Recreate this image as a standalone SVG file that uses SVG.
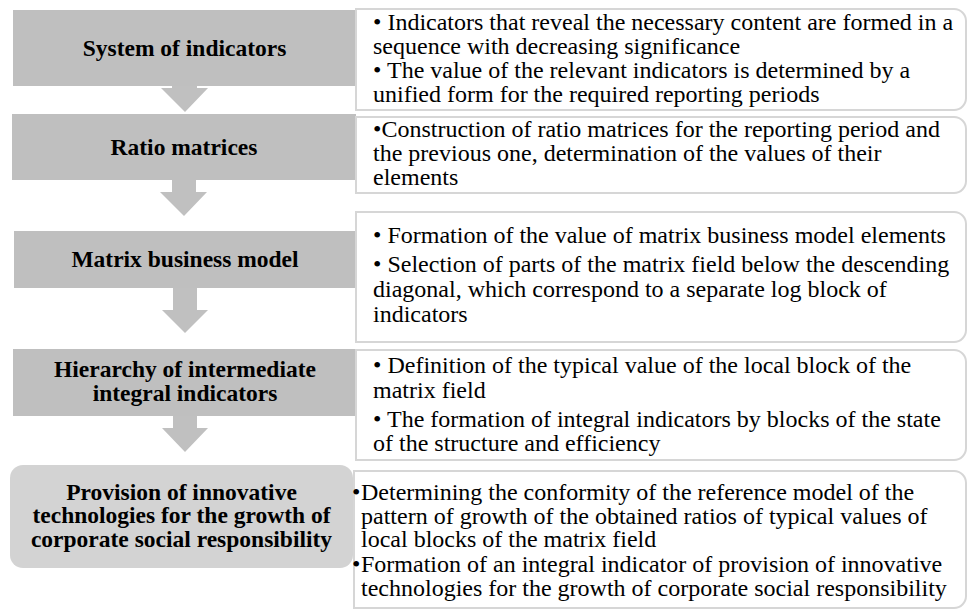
<svg xmlns="http://www.w3.org/2000/svg" width="971" height="610" viewBox="0 0 971 610">
<style>
.step{fill:#bfbfbf}
.last{fill:#d3d3d3}
.arrow{fill:#c0c0c0}
.panel{fill:#ffffff;stroke:#d6d6d6;stroke-width:2}
.title{font-family:"Liberation Serif","Times New Roman",serif;font-weight:bold;font-size:23.5px;fill:#000;text-anchor:middle}
.body{font-family:"Liberation Serif","Times New Roman",serif;font-size:24px;fill:#000}
</style>
<rect width="971" height="610" fill="#ffffff"/>
<g id="connectors">
<path class="arrow" d="M172,86 H197 V88 H208 L185,112 L161,88 H172 Z"/>
<path class="arrow" d="M172,180 H196 V192 H207 L184,216 L160,192 H172 Z"/>
<path class="arrow" d="M173,288 H197 V310 H208 L185,333 L162,310 H173 Z"/>
<path class="arrow" d="M173,416 H197 V428 H208 L185,452 L162,428 H173 Z"/>
</g>
<g id="node1">
<rect class="step" x="13" y="10" width="343" height="76"/>
<text class="title" x="184.5" y="56">System of indicators</text>
</g>
<g id="panel1">
<path class="panel" d="M356,9 H954 A12,12 0 0 1 966,21 V98 A12,12 0 0 1 954,110 H356 Z"/>
<text class="body" x="373" y="30">• Indicators that reveal the necessary content are formed in a</text>
<text class="body" x="373" y="54">sequence with decreasing significance</text>
<text class="body" x="373" y="78">• The value of the relevant indicators is determined by a</text>
<text class="body" x="373" y="102">unified form for the required reporting periods</text>
</g>
<g id="node2">
<rect class="step" x="12" y="114" width="344" height="66"/>
<text class="title" x="184" y="155">Ratio matrices</text>
</g>
<g id="panel2">
<path class="panel" d="M356,117 H954 A12,12 0 0 1 966,129 V181 A12,12 0 0 1 954,193 H356 Z"/>
<text class="body" x="373" y="137">•Construction of ratio matrices for the reporting period and</text>
<text class="body" x="373" y="161">the previous one, determination of the values of their</text>
<text class="body" x="373" y="185">elements</text>
</g>
<g id="node3">
<rect class="step" x="14" y="231" width="343" height="57"/>
<text class="title" x="185" y="267">Matrix business model</text>
</g>
<g id="panel3">
<path class="panel" d="M356,212 H954 A12,12 0 0 1 966,224 V330 A12,12 0 0 1 954,342 H356 Z"/>
<text class="body" x="373" y="243">• Formation of the value of matrix business model elements</text>
<text class="body" x="373" y="272">• Selection of parts of the matrix field below the descending</text>
<text class="body" x="373" y="297">diagonal, which correspond to a separate log block of</text>
<text class="body" x="373" y="322">indicators</text>
</g>
<g id="node4">
<rect class="step" x="13" y="349" width="344" height="67"/>
<text class="title" x="185" y="377">Hierarchy of intermediate</text>
<text class="title" x="185" y="401">integral indicators</text>
</g>
<g id="panel4">
<path class="panel" d="M356,350 H954 A12,12 0 0 1 966,362 V448 A12,12 0 0 1 954,460 H356 Z"/>
<text class="body" x="373" y="373">• Definition of the typical value of the local block of the</text>
<text class="body" x="373" y="397.5">matrix field</text>
<text class="body" x="373" y="427">• The formation of integral indicators by blocks of the state</text>
<text class="body" x="373" y="451">of the structure and efficiency</text>
</g>
<g id="node5">
<rect class="last" x="10" y="465" width="343" height="103" rx="13" ry="13"/>
<text class="title" x="181.5" y="499.5">Provision of innovative</text>
<text class="title" x="181.5" y="523">technologies for the growth of</text>
<text class="title" x="181.5" y="546.5">corporate social responsibility</text>
</g>
<g id="panel5">
<path class="panel" d="M354,471 H954 A12,12 0 0 1 966,483 V596 A12,12 0 0 1 954,608 H354 Z"/>
<text class="body" x="352" y="500">•</text>
<text class="body" x="361" y="500">Determining the conformity of the reference model of the</text>
<text class="body" x="361" y="523.5">pattern of growth of the obtained ratios of typical values of</text>
<text class="body" x="361" y="547">local blocks of the matrix field</text>
<text class="body" x="352" y="572">•</text>
<text class="body" x="361" y="572">Formation of an integral indicator of provision of innovative</text>
<text class="body" x="361" y="596">technologies for the growth of corporate social responsibility</text>
</g>
</svg>
